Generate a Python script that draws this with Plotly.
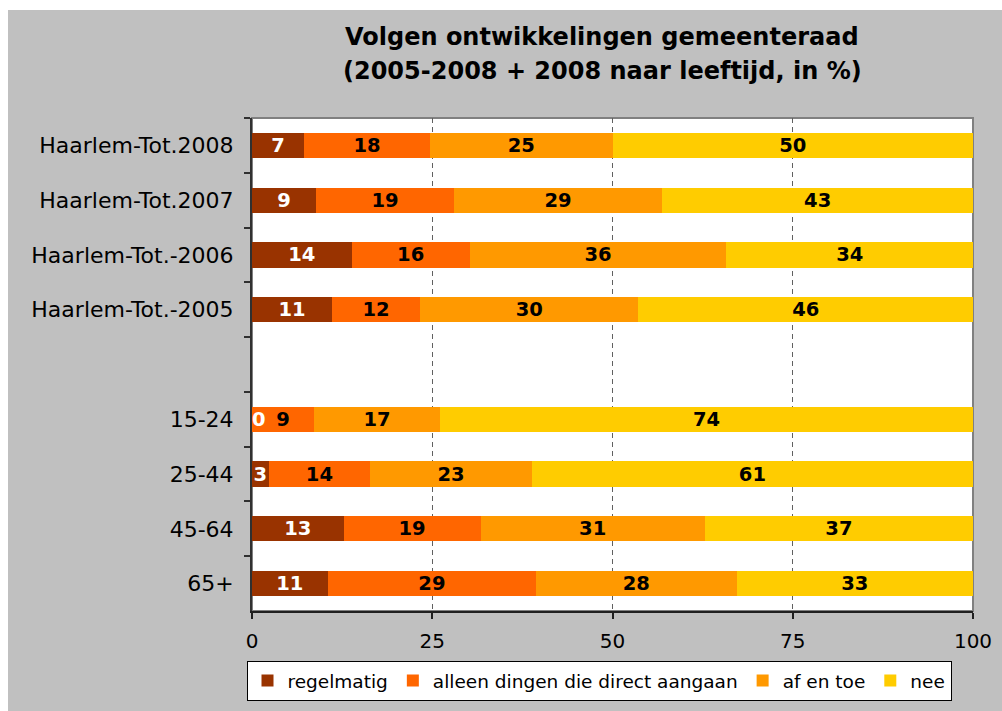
import plotly.graph_objects as go

# ---------------- data ----------------
categories = ["Haarlem-Tot.2008", "Haarlem-Tot.2007", "Haarlem-Tot.-2006",
              "Haarlem-Tot.-2005", " ", "15-24", "25-44", "45-64", "65+"]

series_names = ["regelmatig", "alleen dingen die direct aangaan", "af en toe", "nee"]

# bar lengths (percent)
regelmatig = [7.2, 8.9, 13.8, 11.1, None, 0.0, 2.3, 12.7, 10.5]
alleen_direct = [17.5, 19.1, 16.4, 12.2, None, 8.6, 14.1, 19.0, 28.9]
af_en_toe = [25.3, 28.9, 35.6, 30.3, None, 17.5, 22.4, 31.1, 27.8]
nee = [50.0, 43.1, 34.2, 46.4, None, 73.9, 61.2, 37.2, 32.8]

# data labels as printed on the bars
regelmatig_lbl = ["7", "9", "14", "11", "", "0", "3", "13", "11"]
alleen_direct_lbl = ["18", "19", "16", "12", "", "9", "14", "19", "29"]
af_en_toe_lbl = ["25", "29", "36", "30", "", "17", "23", "31", "28"]
nee_lbl = ["50", "43", "34", "46", "", "74", "61", "37", "33"]

x_ticks = [0, 25, 50, 75, 100]

title_lines = ["Volgen ontwikkelingen gemeenteraad",
               "(2005-2008 + 2008 naar leeftijd, in %)"]

colors = ["#993300", "#FF6600", "#FF9900", "#FFCC00"]
label_colors = ["white", "black", "black", "black"]

# ---------------- layout geometry ----------------
W, H = 1002, 711
L, R, T, B = 252, 29, 118, 100
pw, ph = W - L - R, H - T - B


def px_x(p):
    return (p - L) / pw


def px_y(p):
    return (H - B - p) / ph


FONT = "DejaVu Sans"
LBL_SIZE = 19.5

fig = go.Figure()
values = [regelmatig, alleen_direct, af_en_toe, nee]
labels = [regelmatig_lbl, alleen_direct_lbl, af_en_toe_lbl, nee_lbl]
for name, vals, lbls, col, lcol in zip(series_names, values, labels, colors, label_colors):
    fig.add_trace(go.Bar(
        y=categories, x=vals, name=name, orientation="h",
        marker=dict(color=col, line=dict(width=0)),
        text=["<b>%s</b>" % s if s else "" for s in lbls],
        textposition="inside", insidetextanchor="middle",
        constraintext="none", textangle=0,
        textfont=dict(family=FONT, size=LBL_SIZE, color=lcol),
        hoverinfo="x+y+name",
    ))

# zero-width segment label (plotly does not draw text on empty bars)
for i, v in enumerate(regelmatig):
    if v == 0:
        fig.add_annotation(x=0, y=categories[i], xref="x", yref="y",
                           text="<b>%s</b>" % regelmatig_lbl[i], showarrow=False,
                           xanchor="left", xshift=-2,
                           font=dict(family=FONT, size=LBL_SIZE, color="white"))

# two-line chart title
for line, ypx in zip(title_lines, [37, 71]):
    fig.add_annotation(x=px_x(602), y=px_y(ypx), xref="paper", yref="paper",
                       text="<b>%s</b>" % line, showarrow=False,
                       xanchor="center", yanchor="middle",
                       font=dict(family=FONT, size=24, color="black"))

fig.update_layout(
    width=W, height=H,
    margin=dict(l=L, r=R, t=T, b=B, pad=0, autoexpand=False),
    paper_bgcolor="white", plot_bgcolor="rgba(0,0,0,0)",
    barmode="stack", bargap=0.54,
    font=dict(family=FONT, size=20, color="black"),
    showlegend=True,
    legend=dict(orientation="h", x=px_x(599), xanchor="center", y=px_y(661), yanchor="top",
                bgcolor="white", bordercolor="black", borderwidth=1,
                font=dict(family=FONT, size=18.5, color="black"),
                itemwidth=30, traceorder="normal"),
    shapes=[
        dict(type="rect", xref="paper", yref="paper", layer="below",
             x0=px_x(8), x1=px_x(W + 5), y0=px_y(H + 5), y1=px_y(10),
             fillcolor="#C0C0C0", line=dict(width=0)),
        dict(type="rect", xref="paper", yref="paper", layer="below",
             x0=0, x1=1, y0=0, y1=1,
             fillcolor="white", line=dict(color="#808080", width=2)),
    ],
)

fig.update_xaxes(range=[0, 100], tickvals=x_ticks, ticktext=[str(t) for t in x_ticks],
                 showgrid=True, gridcolor="#606060", gridwidth=1, griddash="5px,4px",
                 zeroline=False, showline=True, linecolor="#202020", linewidth=1.5,
                 ticks="outside", ticklen=6, tickcolor="#202020", tickwidth=1.5,
                 ticklabelstandoff=5,
                 tickfont=dict(family=FONT, size=20, color="black"), fixedrange=True)

fig.update_yaxes(type="category", categoryorder="array", categoryarray=categories,
                 range=[len(categories) - 0.5, -0.5],
                 tickson="boundaries", ticks="outside", ticklen=6, tickcolor="#303030", tickwidth=1.5,
                 showline=True, linecolor="#303030", linewidth=2, showgrid=False,
                 ticklabelstandoff=12,
                 tickfont=dict(family=FONT, size=22, color="black"), fixedrange=True)

fig.write_html("out.html", config={"displayModeBar": False},
               post_script="document.body.style.margin='0';")
